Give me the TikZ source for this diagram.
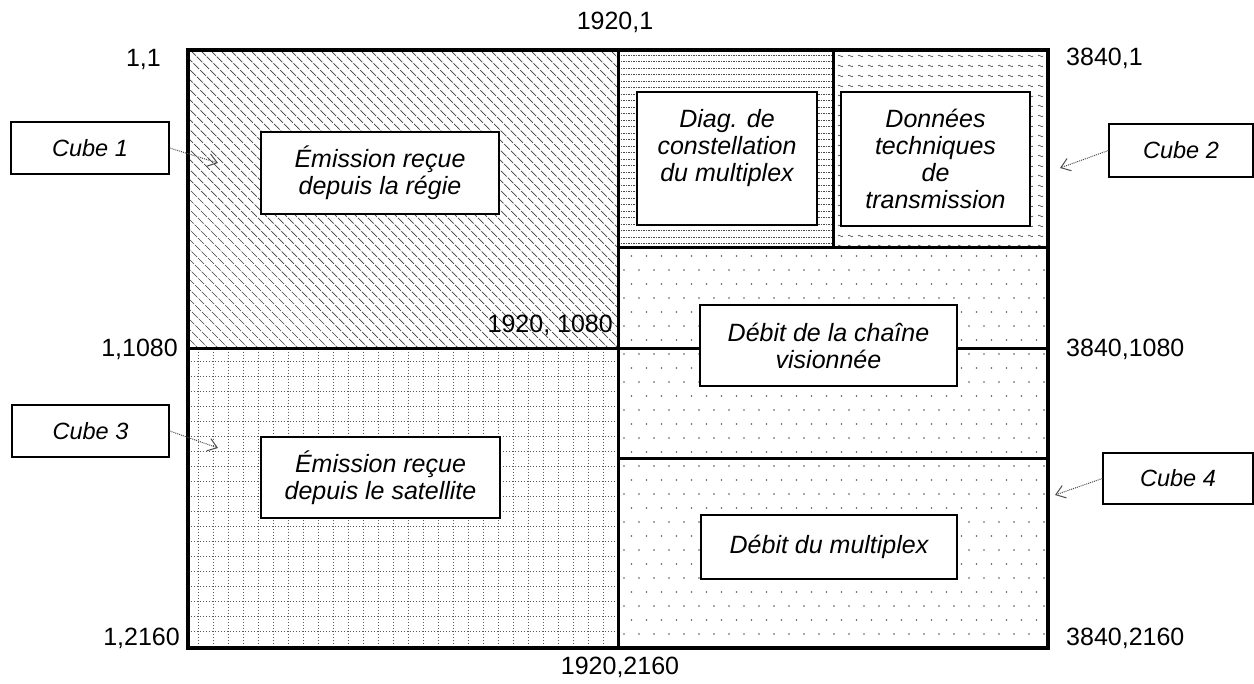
\documentclass[tikz,border=0pt]{standalone}
\usepackage{fontspec}
\setmainfont{Liberation Sans}
\usetikzlibrary{arrows.meta}
\begin{document}
\begin{tikzpicture}[x=1pt,y=-1pt,
  box/.style={draw=black, line width=1.4pt, fill=white, align=center, inner sep=0pt,
    font=\fontsize{25}{27}\selectfont\itshape},
  cubebox/.style={draw=black, line width=1.3pt, fill=white, inner sep=0pt,
    font=\fontsize{23.5}{27}\selectfont\itshape},
  coordlabel/.style={font=\fontsize{25}{28}\selectfont, inner sep=0pt},
  pointer/.style={gray!60!black, line width=1pt, densely dotted,
    -{Straight Barb[length=9pt,width=13pt]}},
  frame/.style={line width=3.5pt},
  divider/.style={line width=3pt},
  hatch/.style={gray!50!black, line width=0.7pt, dash pattern=on 8pt off 1.5pt},
  gridline/.style={black!65, line width=0.9pt, dash pattern=on 1pt off 2pt},
  hline/.style={black!70, line width=0.7pt, dash pattern=on 1.5pt off 1pt},
  wave/.style={black!70, line width=0.6pt}]

\fill[white] (0,0) rectangle (1254,684);
\useasboundingbox (0,0) rectangle (1254,684);

% Cube 1: diagonal hatching
\begin{scope}
  \clip (188,50) rectangle (618,349);
  \foreach \i in {-320,-310,...,620}
    \draw[hatch] (\i,50) -- ++(300,300);
\end{scope}

% Cube 3: dotted grid
\begin{scope}
  \clip (188,349) rectangle (618,648);
  \foreach \x in {198,213,...,618}
    \draw[gridline] (\x,349) -- (\x,648);
  \foreach \y in {361,376,...,648}
    \draw[gridline] (188,\y) -- (618,\y);
\end{scope}

% Diag region: horizontal dotted lines
\begin{scope}
  \clip (618,50) rectangle (833,248);
  \foreach \y in {55,61.5,...,246}
    \draw[hline] (618,\y) -- (833,\y);
\end{scope}

% Donnees region: small waves
\begin{scope}
  \clip (833,50) rectangle (1048,248);
  \foreach \y in {56,66,...,246}
    \foreach \x in {838,848,...,1046}
      \draw[wave] (\x,\y) .. controls (\x+1.5,\y-3) and (\x+3.5,\y+3) .. (\x+5,\y);
\end{scope}

% Cube 4: dots
\begin{scope}
  \clip (618,248) rectangle (1048,648);
  \foreach \y [count=\rr, evaluate=\rr as \off using {7.5*mod(\rr,2)}] in {256,270,...,646}
    \foreach \x in {624,639,...,1046}
      \fill[black!65] ({\x+\off},\y) circle (0.9);
\end{scope}

% dividers and frame
\draw[divider] (618,50) -- (618,648);
\draw[divider] (188,349) -- (618,349);
\draw[divider] (618,248) -- (1048,248);
\draw[divider] (833,50) -- (833,248);
\draw[divider] (618,349) -- (1048,349);
\draw[divider] (618,459) -- (1048,459);
\draw[frame] (188,50) rectangle (1048,648);

% inner boxes
\node[box, minimum width=238pt, minimum height=82pt] (regie) at (380,173)
  {Émission reçue\\depuis la régie};
\node[box, minimum width=239pt, minimum height=81pt] (sat) at (380.5,477.5)
  {Émission reçue\\depuis le satellite};
\node[box, minimum width=180pt, minimum height=133pt] (diag) at (727,158.5)
  {Diag. de\\constellation\\du multiplex\\\mbox{}};
\node[box, minimum width=189pt, minimum height=134pt] (donnees) at (935.5,159)
  {Données\\techniques\\de\\transmission};
\node[box, minimum width=257pt, minimum height=81pt] (chaine) at (828.5,345.5)
  {Débit de la chaîne\\visionnée};
\node[box, minimum width=256pt, minimum height=64pt] (multiplex) at (829,547)
  {Débit du multiplex};

% cube labels
\node[cubebox, minimum width=158pt, minimum height=52pt] (c1) at (90,148) {Cube 1};
\node[cubebox, minimum width=144pt, minimum height=53pt] (c2) at (1181,150.5) {Cube 2};
\node[cubebox, minimum width=157pt, minimum height=52pt] (c3) at (90.5,431) {Cube 3};
\node[cubebox, minimum width=150pt, minimum height=51pt] (c4) at (1178,478.5) {Cube 4};

\coordinate (t1) at (218,163);
\coordinate (t2) at (1060,168);
\coordinate (t3) at (218,448);
\coordinate (t4) at (1055,495);
\draw[pointer] (c1.east) -- (t1);
\draw[pointer] (c2.west) -- (t2);
\draw[pointer] (c3.east) -- (t3);
\draw[pointer] (c4.west) -- (t4);

% corner coordinates
\node[coordlabel, anchor=east] (k11) at (161,60) {1,1};
\node[coordlabel] (k19201) at (615,22) {1920,1};
\node[coordlabel, anchor=west] (k38401) at (1066,58) {3840,1};
\node[coordlabel, anchor=east] (k11080) at (178,349) {1,1080};
\node[coordlabel, anchor=east] (k19201080) at (613,325) {1920, 1080};
\node[coordlabel, anchor=west] (k38401080) at (1066,349) {3840,1080};
\node[coordlabel, anchor=east] (k12160) at (180,638) {1,2160};
\node[coordlabel] (k19202160) at (620,667) {1920,2160};
\node[coordlabel, anchor=west] (k38402160) at (1066,638) {3840,2160};
\end{tikzpicture}
\end{document}
